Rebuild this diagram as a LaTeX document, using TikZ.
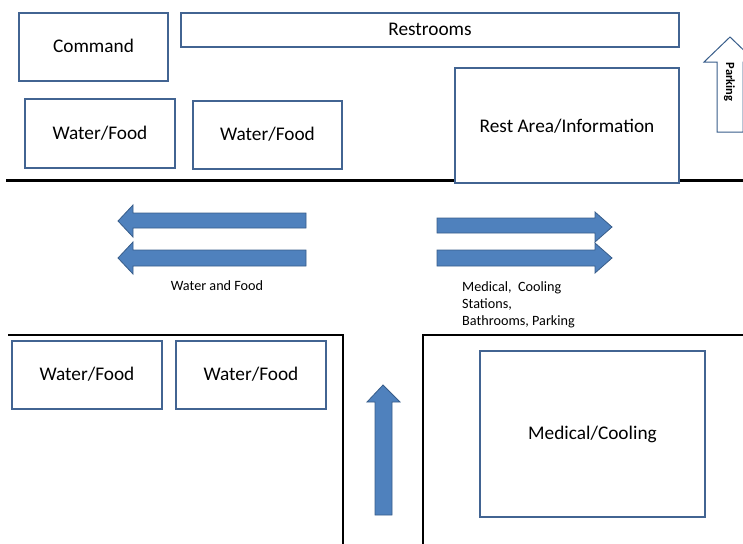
\documentclass[tikz,border=0pt]{standalone}
\usepackage{fontspec}
\setmainfont{Carlito}
\definecolor{boxline}{RGB}{66,100,146}
\definecolor{arrowfill}{RGB}{79,129,189}
\definecolor{arrowline}{RGB}{56,93,138}
\begin{document}
\begin{tikzpicture}[x=1pt,y=-1pt,
  area/.style={draw=boxline,line width=1.1pt,fill=white},
  areatext/.style={font=\fontsize{19.3}{22}\selectfont},
  flowarrow/.style={fill=arrowfill,draw=arrowline,line width=0.8pt,line join=miter},
  road/.style={draw=black,line width=2pt},
  note/.style={font=\fontsize{14.2}{17.2}\selectfont,align=left,inner sep=0pt}]
\useasboundingbox (0,0) rectangle (743,543);

% street edges
\draw[road,line width=3pt] (6,180) -- (743,180);
\draw[road] (8,335) -- (343,335) -- (343,545);
\draw[road] (743,335) -- (423,335) -- (423,545);

% upper block
\draw[area] (19,13) rectangle (168,81);
\node[areatext] (command) at (93.5,46) {Command};
\draw[area] (181,13) rectangle (679,47);
\node[areatext] (restrooms) at (430,29.5) {Restrooms};
\draw[area] (25,99) rectangle (175,168);
\node[areatext] (wf1) at (100,133) {Water/Food};
\draw[area] (193,101) rectangle (342,169);
\node[areatext] (wf2) at (267.5,134) {Water/Food};
\draw[area] (455,68) rectangle (679,183);
\node[areatext] (rest) at (567,126) {Rest Area/Information};

% parking sign
\begin{scope}
\clip (0,0) rectangle (743,543);
\draw[draw=arrowline,line width=1pt,fill=white]
  (717,132) -- (717,62) -- (704,62) -- (730,37) -- (756,62) -- (743,62) -- (743,132) -- cycle;
\end{scope}
\node[font=\fontsize{12.5}{14}\selectfont\bfseries,rotate=-90] (parking) at (729.5,82) {Parking};

% westbound arrows
\draw[flowarrow] (306,213) -- (133,213) -- (133,205) -- (118,221) -- (133,237) -- (133,228) -- (306,228) -- cycle;
\draw[flowarrow] (306,250) -- (133,250) -- (133,242) -- (118,258) -- (133,274) -- (133,266) -- (306,266) -- cycle;
\node[note] (westnote) at (217,286) {Water and Food};

% eastbound arrows
\draw[flowarrow] (437,218) -- (595,218) -- (595,212) -- (612,227) -- (595,242) -- (595,233) -- (437,233) -- cycle;
\draw[flowarrow] (437,250) -- (595,250) -- (595,243) -- (612,258) -- (595,273) -- (595,266) -- (437,266) -- cycle;
\node[note,anchor=north west] (eastnote) at (462,281) {Medical,\ \ Cooling\\Stations,\\Bathrooms, Parking};

% northbound arrow
\draw[flowarrow] (375,515) -- (375,402) -- (367,402) -- (383,385) -- (400,402) -- (392,402) -- (392,515) -- cycle;

% lower blocks
\draw[area] (12,341) rectangle (162,409);
\node[areatext] (wf3) at (87,374.5) {Water/Food};
\draw[area] (176,341) rectangle (326,409);
\node[areatext] (wf4) at (251,374.5) {Water/Food};
\draw[area] (480,351) rectangle (705,517);
\node[areatext] (medical) at (592.5,434) {Medical/Cooling};
\end{tikzpicture}
\end{document}
